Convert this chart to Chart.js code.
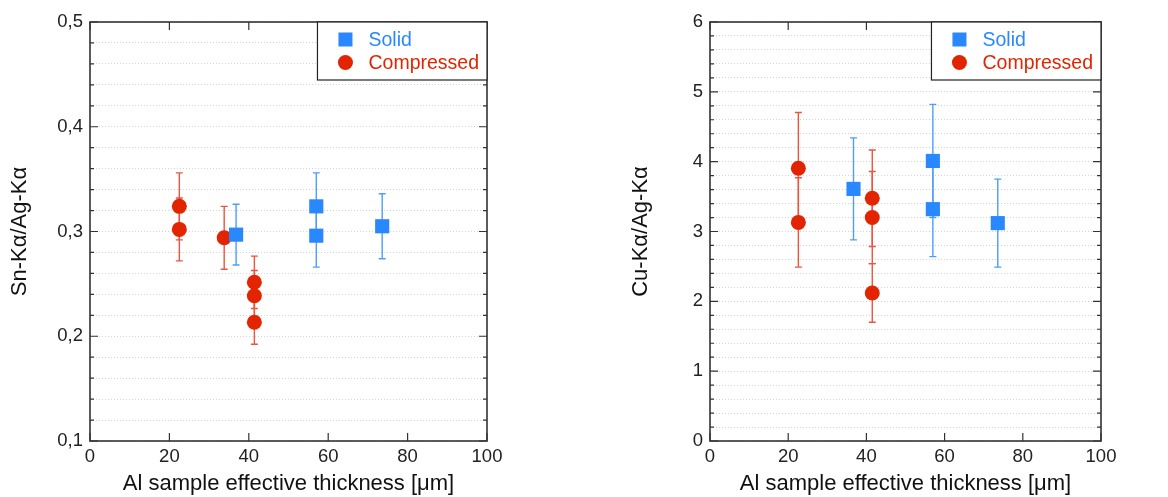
<!DOCTYPE html>
<html>
<head>
<meta charset="utf-8">
<script src="https://cdn.jsdelivr.net/npm/chart.js@4/dist/chart.umd.min.js"></script>
<style>
  body { margin: 0; background: #fff; }
  canvas { position: absolute; top: 0; }
  #snChart { left: 0; }
  #cuChart { left: 584px; }
</style>
</head>
<body>
<canvas id="snChart" width="584" height="497"></canvas>
<canvas id="cuChart" width="584" height="497"></canvas>
<script>
// Sn-Ka/Ag-Ka (left panel)
const snSolidX = [36.8, 57.0, 57.0, 73.6];
const snSolidY = [0.297, 0.324, 0.296, 0.305];
const snSolidErr = [0.029, 0.032, 0.030, 0.031];
const snCompX = [22.5, 22.5, 33.8, 41.4, 41.4, 41.4];
const snCompY = [0.324, 0.302, 0.294, 0.2515, 0.2387, 0.2134];
const snCompErr = [0.032, 0.030, 0.030, 0.025, 0.024, 0.021];

// Cu-Ka/Ag-Ka (right panel)
const cuSolidX = [36.7, 57.0, 57.0, 73.6];
const cuSolidY = [3.61, 4.01, 3.32, 3.12];
const cuSolidErr = [0.73, 0.81, 0.68, 0.63];
const cuCompX = [22.6, 22.6, 41.5, 41.5, 41.5];
const cuCompY = [3.905, 3.13, 3.476, 3.20, 2.12];
const cuCompErr = [0.80, 0.64, 0.69, 0.66, 0.42];

const seriesNames = ['Solid', 'Compressed'];
const xTitle = 'Al sample effective thickness [\u03bcm]';

const BLUE = '#2a88ff', RED = '#e32400';
const BLUE_BAR = '#4e9dff', RED_BAR = '#ea5540';
const FONT = 'Liberation Sans, Arial, Helvetica, sans-serif';

function pts(xs, ys) { return xs.map((x, i) => ({ x: x, y: ys[i] })); }

// error bars, drawn under the markers
const errorBars = {
  id: 'errorBars',
  beforeDatasetsDraw(chart) {
    const ctx = chart.ctx, xs = chart.scales.x, ys = chart.scales.y;
    chart.data.datasets.forEach(ds => {
      ctx.save();
      ctx.strokeStyle = ds.barColor;
      ctx.lineWidth = 1.4;
      ds.data.forEach((p, i) => {
        const e = ds.errors[i];
        const px = xs.getPixelForValue(p.x);
        const top = ys.getPixelForValue(p.y + e), bot = ys.getPixelForValue(p.y - e);
        ctx.beginPath();
        ctx.moveTo(px, top); ctx.lineTo(px, bot);
        ctx.moveTo(px - 3.5, top); ctx.lineTo(px + 3.5, top);
        ctx.moveTo(px - 3.5, bot); ctx.lineTo(px + 3.5, bot);
        ctx.stroke();
      });
      ctx.restore();
    });
  }
};

// plot frame with inward ticks, then the boxed legend
const frameAndLegend = {
  id: 'frameAndLegend',
  afterDraw(chart) {
    const ctx = chart.ctx, a = chart.chartArea;
    const xs = chart.scales.x, ys = chart.scales.y;
    ctx.save();
    ctx.strokeStyle = '#333';
    ctx.lineWidth = 1.2;
    ctx.beginPath();
    xs.ticks.forEach(t => {
      const px = xs.getPixelForValue(t.value);
      ctx.moveTo(px, a.bottom); ctx.lineTo(px, a.bottom - 8);
      ctx.moveTo(px, a.top); ctx.lineTo(px, a.top + 8);
    });
    ys.ticks.forEach(t => {
      const py = ys.getPixelForValue(t.value);
      const len = t.label ? 8 : 4;
      ctx.moveTo(a.left, py); ctx.lineTo(a.left + len, py);
      ctx.moveTo(a.right, py); ctx.lineTo(a.right - len, py);
    });
    ctx.stroke();
    ctx.lineWidth = 1.6;
    ctx.strokeRect(a.left, a.top, a.right - a.left, a.bottom - a.top);

    // legend
    ctx.font = '19.5px ' + FONT;
    const names = chart.data.datasets.map(d => d.label);
    const tw = Math.max(...names.map(n => ctx.measureText(n).width));
    const bw = 51 + tw + 8, bh = 58;
    const bx = a.right - bw, by = a.top;
    ctx.fillStyle = '#fff';
    ctx.fillRect(bx, by, bw, bh);
    ctx.lineWidth = 1.2;
    ctx.strokeStyle = '#222';
    ctx.strokeRect(bx, by, bw, bh);
    ctx.textBaseline = 'middle';
    chart.data.datasets.forEach((ds, i) => {
      const cy = by + 17.5 + i * 23;
      ctx.fillStyle = ds.backgroundColor;
      if (ds.pointStyle === 'rect') {
        ctx.fillRect(bx + 28 - 7, cy - 7, 14, 14);
      } else {
        ctx.beginPath(); ctx.arc(bx + 28, cy, 7.5, 0, Math.PI * 2); ctx.fill();
      }
      ctx.fillText(ds.label, bx + 51, cy + 1);
    });
    ctx.restore();
  }
};

function makeChart(id, p) {
  return new Chart(document.getElementById(id), {
    type: 'scatter',
    data: {
      datasets: [
        { label: seriesNames[0], data: pts(p.sx, p.sy), errors: p.se, pointStyle: 'rect', pointRadius: 10,
          backgroundColor: BLUE, borderColor: BLUE, borderWidth: 0, barColor: BLUE_BAR },
        { label: seriesNames[1], data: pts(p.cx, p.cy), errors: p.ce, pointStyle: 'circle', pointRadius: 7.5,
          backgroundColor: RED, borderColor: RED, borderWidth: 0, barColor: RED_BAR }
      ]
    },
    options: {
      responsive: false,
      animation: false,
      events: [],
      layout: { padding: { left: 0, top: 22, right: p.padRight, bottom: 0 } },
      plugins: { legend: { display: false }, tooltip: { enabled: false }, frameAndLegend: {} },
      scales: {
        x: {
          type: 'linear', min: 0, max: 100,
          ticks: { stepSize: 20, padding: 5, color: '#222', font: { family: FONT, size: 18.5 } },
          grid: { display: false, drawTicks: false },
          border: { display: false },
          title: { display: true, text: xTitle, color: '#111', font: { family: FONT, size: 22 }, padding: { top: 0, bottom: 0 } },
          afterFit: s => { s.height = 56; }
        },
        y: {
          type: 'linear', min: p.ymin, max: p.ymax,
          ticks: {
            stepSize: p.minor, padding: 7, color: '#222', font: { family: FONT, size: 18.5 },
            autoSkip: false,
            callback: v => {
              const q = v / p.major;
              if (Math.abs(q - Math.round(q)) > 1e-6) return '';
              return p.digits ? v.toFixed(p.digits).replace('.', ',') : String(Math.round(v));
            }
          },
          grid: { color: '#d2d2d2', lineWidth: 1, drawTicks: false },
          border: { display: false, dash: [1, 2] },
          title: { display: true, text: p.yTitle, color: '#111', font: { family: FONT, size: 22 }, padding: { top: p.titlePad, bottom: 0 } },
          afterFit: s => { s.width = p.axisWidth; }
        }
      }
    },
    plugins: [errorBars, frameAndLegend]
  });
}

makeChart('snChart', {
  sx: snSolidX, sy: snSolidY, se: snSolidErr,
  cx: snCompX, cy: snCompY, ce: snCompErr,
  ymin: 0.1, ymax: 0.5, minor: 0.02, major: 0.1, digits: 1,
  yTitle: 'Sn-K\u03b1/Ag-K\u03b1', axisWidth: 90, titlePad: 7, padRight: 97
});

makeChart('cuChart', {
  sx: cuSolidX, sy: cuSolidY, se: cuSolidErr,
  cx: cuCompX, cy: cuCompY, ce: cuCompErr,
  ymin: 0, ymax: 6, minor: 0.2, major: 1, digits: 0,
  yTitle: 'Cu-K\u03b1/Ag-K\u03b1', axisWidth: 126, titlePad: 44, padRight: 67
});
</script>
</body>
</html>
